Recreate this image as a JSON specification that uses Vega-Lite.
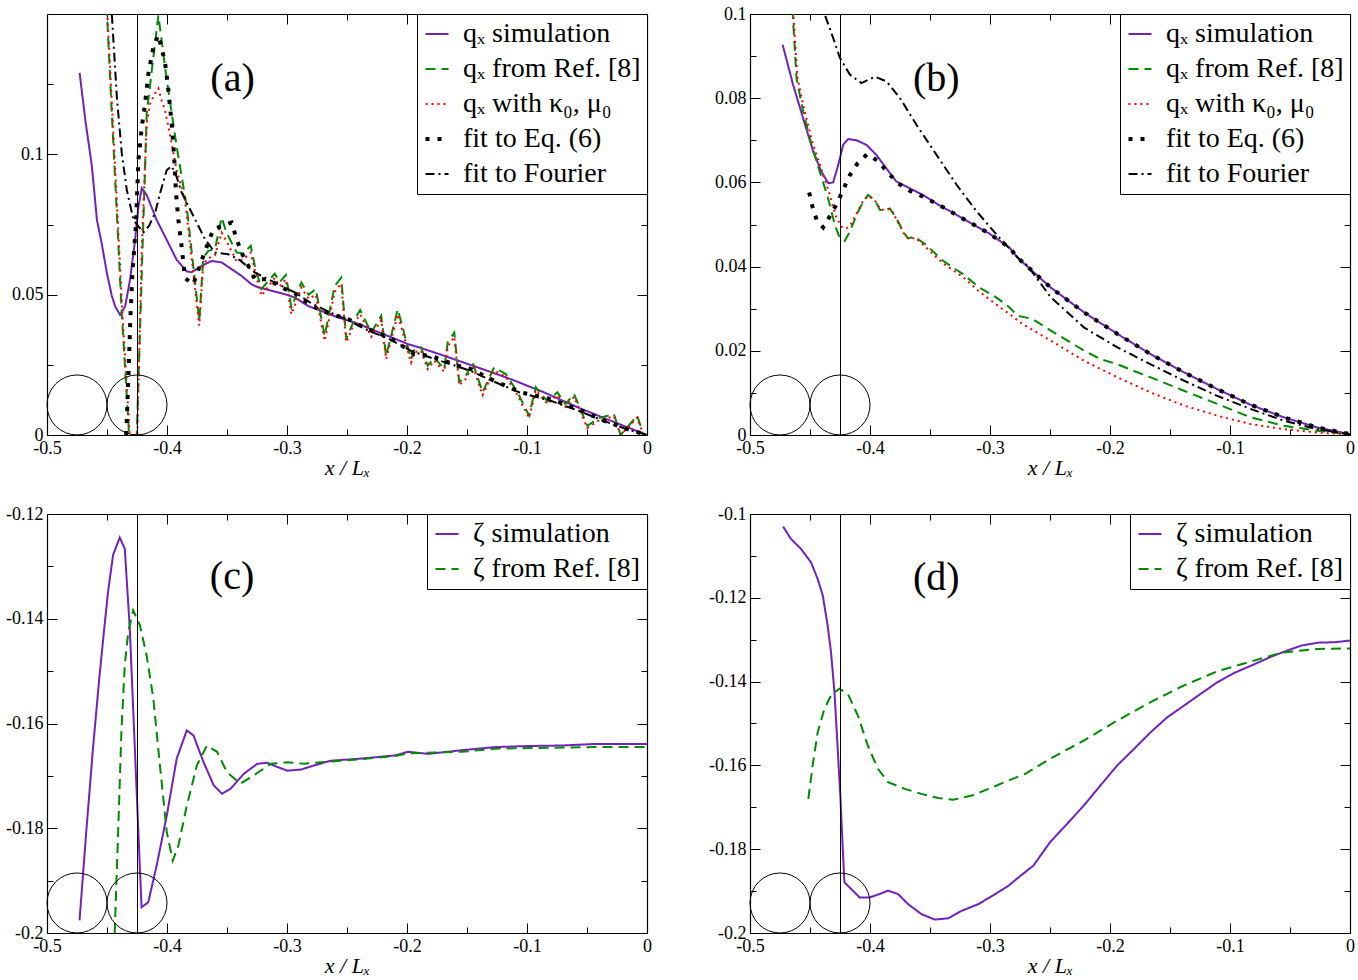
{
"$schema": "https://vega.github.io/schema/vega-lite/v6.json",
"padding": {"left": 5, "top": 5, "right": 5, "bottom": 5},
"background": "white",
"config": {
  "view": {"stroke": null},
  "font": "Liberation Serif",
  "axis": {"domainColor": "black", "domainWidth": 1.2, "tickColor": "black", "tickWidth": 1, "labelColor": "black", "labelFont": "Liberation Serif", "labelFontSize": 18, "titleFont": "Liberation Serif", "grid": false, "labelFlush": false, "labelOverlap": false, "labelBound": false}
},
"datasets": {
  "qa": [
    {"s":"p","x":-0.4728,"y":0.129},{"s":"p","x":-0.468,"y":0.112},{"s":"p","x":-0.4626,"y":0.0958},{"s":"p","x":-0.4584,"y":0.0766},{"s":"p","x":-0.4543,"y":0.068},{"s":"p","x":-0.4501,"y":0.0577},{"s":"p","x":-0.446,"y":0.0496},{"s":"p","x":-0.4432,"y":0.0458},{"s":"p","x":-0.4391,"y":0.0428},{"s":"p","x":-0.4349,"y":0.0458},{"s":"p","x":-0.4308,"y":0.0553},{"s":"p","x":-0.4266,"y":0.0695},{"s":"p","x":-0.4238,"y":0.0814},{"s":"p","x":-0.421,"y":0.0879},{"s":"p","x":-0.4169,"y":0.0855},{"s":"p","x":-0.4086,"y":0.0766},{"s":"p","x":-0.4002,"y":0.0695},{"s":"p","x":-0.3919,"y":0.0624},{"s":"p","x":-0.3836,"y":0.0583},{"s":"p","x":-0.3795,"y":0.058},{"s":"p","x":-0.3712,"y":0.0603},{"s":"p","x":-0.3628,"y":0.062},{"s":"p","x":-0.3545,"y":0.0615},{"s":"p","x":-0.3462,"y":0.0591},{"s":"p","x":-0.3379,"y":0.0567},{"s":"p","x":-0.3296,"y":0.0537},{"s":"p","x":-0.324,"y":0.0526},{"s":"p","x":-0.313,"y":0.0514},{"s":"p","x":-0.3019,"y":0.0502},{"s":"p","x":-0.2936,"y":0.049},{"s":"p","x":-0.2825,"y":0.046},{"s":"p","x":-0.2714,"y":0.0442},{"s":"p","x":-0.2575,"y":0.0419},{"s":"p","x":-0.2437,"y":0.0401},{"s":"p","x":-0.2298,"y":0.0377},{"s":"p","x":-0.216,"y":0.0353},{"s":"p","x":-0.1993,"y":0.0324},{"s":"p","x":-0.1883,"y":0.031},{"s":"p","x":-0.1689,"y":0.0282},{"s":"p","x":-0.1412,"y":0.0241},{"s":"p","x":-0.1135,"y":0.0199},{"s":"p","x":-0.0858,"y":0.0152},{"s":"p","x":-0.058,"y":0.0099},{"s":"p","x":-0.0303,"y":0.0051},{"s":"p","x":0,"y":0},
    {"s":"g","x":-0.4525,"y":0.17},{"s":"g","x":-0.45,"y":0.15},{"s":"g","x":-0.446,"y":0.1146},{"s":"g","x":-0.4418,"y":0.079},{"s":"g","x":-0.4377,"y":0.0434},{"s":"g","x":-0.4335,"y":0.0139},{"s":"g","x":-0.4316,"y":0},{"s":"g","x":-0.4252,"y":0},{"s":"g","x":-0.4169,"y":0.1146},{"s":"g","x":-0.4072,"y":0.1495},{"s":"g","x":-0.4002,"y":0.1265},{"s":"g","x":-0.392,"y":0.1029},{"s":"g","x":-0.3836,"y":0.0815},{"s":"g","x":-0.3731,"y":0.0407},{"s":"g","x":-0.3698,"y":0.0632},{"s":"g","x":-0.3656,"y":0.0656},{"s":"g","x":-0.36,"y":0.0662},{"s":"g","x":-0.3545,"y":0.0775},{"s":"g","x":-0.3504,"y":0.0721},{"s":"g","x":-0.342,"y":0.065},{"s":"g","x":-0.3365,"y":0.0648},{"s":"g","x":-0.3302,"y":0.0674},{"s":"g","x":-0.3268,"y":0.0603},{"s":"g","x":-0.3213,"y":0.052},{"s":"g","x":-0.3102,"y":0.0575},{"s":"g","x":-0.306,"y":0.0545},{"s":"g","x":-0.301,"y":0.057},{"s":"g","x":-0.2963,"y":0.0454},{"s":"g","x":-0.288,"y":0.0543},{"s":"g","x":-0.282,"y":0.05},{"s":"g","x":-0.276,"y":0.052},{"s":"g","x":-0.2686,"y":0.0353},{"s":"g","x":-0.2603,"y":0.0531},{"s":"g","x":-0.2548,"y":0.0561},{"s":"g","x":-0.2506,"y":0.0342},{"s":"g","x":-0.2437,"y":0.0413},{"s":"g","x":-0.239,"y":0.0445},{"s":"g","x":-0.2298,"y":0.0365},{"s":"g","x":-0.2215,"y":0.0425},{"s":"g","x":-0.2174,"y":0.0282},{"s":"g","x":-0.2077,"y":0.0448},{"s":"g","x":-0.1966,"y":0.027},{"s":"g","x":-0.1938,"y":0.0306},{"s":"g","x":-0.1883,"y":0.0312},{"s":"g","x":-0.1827,"y":0.0247},{"s":"g","x":-0.1772,"y":0.0276},{"s":"g","x":-0.169,"y":0.0235},{"s":"g","x":-0.1661,"y":0.033},{"s":"g","x":-0.1606,"y":0.0365},{"s":"g","x":-0.1564,"y":0.0188},{"s":"g","x":-0.151,"y":0.021},{"s":"g","x":-0.1453,"y":0.0259},{"s":"g","x":-0.137,"y":0.0152},{"s":"g","x":-0.1274,"y":0.0241},{"s":"g","x":-0.1176,"y":0.0217},{"s":"g","x":-0.1079,"y":0.0152},{"s":"g","x":-0.0983,"y":0.0069},{"s":"g","x":-0.0927,"y":0.017},{"s":"g","x":-0.083,"y":0.012},{"s":"g","x":-0.0747,"y":0.0152},{"s":"g","x":-0.068,"y":0.011},{"s":"g","x":-0.0608,"y":0.0146},{"s":"g","x":-0.0497,"y":0.0033},{"s":"g","x":-0.04,"y":0.006},{"s":"g","x":-0.0276,"y":0.0075},{"s":"g","x":-0.022,"y":0},{"s":"g","x":-0.0081,"y":0.0069},{"s":"g","x":-0.003,"y":0},{"s":"g","x":0,"y":0},
    {"s":"r","x":-0.452,"y":0.17},{"s":"r","x":-0.4497,"y":0.15},{"s":"r","x":-0.4455,"y":0.1146},{"s":"r","x":-0.4413,"y":0.079},{"s":"r","x":-0.4372,"y":0.0434},{"s":"r","x":-0.433,"y":0.0139},{"s":"r","x":-0.431,"y":0},{"s":"r","x":-0.4248,"y":0},{"s":"r","x":-0.421,"y":0.067},{"s":"r","x":-0.4169,"y":0.111},{"s":"r","x":-0.4141,"y":0.118},{"s":"r","x":-0.41,"y":0.1217},{"s":"r","x":-0.4072,"y":0.1235},{"s":"r","x":-0.4044,"y":0.119},{"s":"r","x":-0.4017,"y":0.1158},{"s":"r","x":-0.3961,"y":0.1039},{"s":"r","x":-0.392,"y":0.0944},{"s":"r","x":-0.385,"y":0.0837},{"s":"r","x":-0.3731,"y":0.039},{"s":"r","x":-0.3698,"y":0.061},{"s":"r","x":-0.3656,"y":0.063},{"s":"r","x":-0.36,"y":0.064},{"s":"r","x":-0.3545,"y":0.0721},{"s":"r","x":-0.3504,"y":0.069},{"s":"r","x":-0.342,"y":0.062},{"s":"r","x":-0.3365,"y":0.0625},{"s":"r","x":-0.3302,"y":0.065},{"s":"r","x":-0.3268,"y":0.0585},{"s":"r","x":-0.3213,"y":0.0496},{"s":"r","x":-0.3102,"y":0.056},{"s":"r","x":-0.306,"y":0.053},{"s":"r","x":-0.301,"y":0.0555},{"s":"r","x":-0.2963,"y":0.043},{"s":"r","x":-0.288,"y":0.0525},{"s":"r","x":-0.282,"y":0.0485},{"s":"r","x":-0.276,"y":0.05},{"s":"r","x":-0.2686,"y":0.0335},{"s":"r","x":-0.2603,"y":0.051},{"s":"r","x":-0.2548,"y":0.054},{"s":"r","x":-0.2506,"y":0.033},{"s":"r","x":-0.2437,"y":0.04},{"s":"r","x":-0.239,"y":0.043},{"s":"r","x":-0.2298,"y":0.035},{"s":"r","x":-0.2215,"y":0.041},{"s":"r","x":-0.2174,"y":0.027},{"s":"r","x":-0.2077,"y":0.043},{"s":"r","x":-0.1966,"y":0.0258},{"s":"r","x":-0.1938,"y":0.0295},{"s":"r","x":-0.1883,"y":0.03},{"s":"r","x":-0.1827,"y":0.0235},{"s":"r","x":-0.1772,"y":0.0265},{"s":"r","x":-0.169,"y":0.0225},{"s":"r","x":-0.1661,"y":0.0315},{"s":"r","x":-0.1606,"y":0.035},{"s":"r","x":-0.1564,"y":0.0178},{"s":"r","x":-0.151,"y":0.02},{"s":"r","x":-0.1453,"y":0.0248},{"s":"r","x":-0.137,"y":0.0142},{"s":"r","x":-0.1274,"y":0.023},{"s":"r","x":-0.1176,"y":0.0207},{"s":"r","x":-0.1079,"y":0.0142},{"s":"r","x":-0.0983,"y":0.006},{"s":"r","x":-0.0927,"y":0.016},{"s":"r","x":-0.083,"y":0.011},{"s":"r","x":-0.0747,"y":0.0142},{"s":"r","x":-0.068,"y":0.01},{"s":"r","x":-0.0608,"y":0.0136},{"s":"r","x":-0.0497,"y":0.0025},{"s":"r","x":-0.04,"y":0.0052},{"s":"r","x":-0.0276,"y":0.0067},{"s":"r","x":-0.022,"y":0},{"s":"r","x":-0.0081,"y":0.0062},{"s":"r","x":-0.003,"y":0},{"s":"r","x":0,"y":0},
    {"s":"d","x":-0.434,"y":0},{"s":"d","x":-0.4322,"y":0.02},{"s":"d","x":-0.4305,"y":0.042},{"s":"d","x":-0.4288,"y":0.0577},{"s":"d","x":-0.426,"y":0.0743},{"s":"d","x":-0.4238,"y":0.098},{"s":"d","x":-0.421,"y":0.1098},{"s":"d","x":-0.4183,"y":0.118},{"s":"d","x":-0.4155,"y":0.1288},{"s":"d","x":-0.4113,"y":0.1383},{"s":"d","x":-0.4072,"y":0.1425},{"s":"d","x":-0.4017,"y":0.133},{"s":"d","x":-0.3989,"y":0.1229},{"s":"d","x":-0.3961,"y":0.111},{"s":"d","x":-0.3942,"y":0.1004},{"s":"d","x":-0.3925,"y":0.0861},{"s":"d","x":-0.3905,"y":0.0766},{"s":"d","x":-0.3878,"y":0.0671},{"s":"d","x":-0.385,"y":0.0559},{"s":"d","x":-0.3781,"y":0.0537},{"s":"d","x":-0.3698,"y":0.0638},{"s":"d","x":-0.3614,"y":0.0733},{"s":"d","x":-0.3462,"y":0.0757},{"s":"d","x":-0.342,"y":0.0698},{"s":"d","x":-0.3379,"y":0.065},{"s":"d","x":-0.3323,"y":0.0603},{"s":"d","x":-0.3268,"y":0.0555},{"s":"d","x":-0.3157,"y":0.0555},{"s":"d","x":-0.3047,"y":0.0526},{"s":"d","x":-0.2922,"y":0.0502},{"s":"d","x":-0.2853,"y":0.0478},{"s":"d","x":-0.2742,"y":0.0448},{"s":"d","x":-0.2631,"y":0.0431},{"s":"d","x":-0.2492,"y":0.0413},{"s":"d","x":-0.2326,"y":0.0377},{"s":"d","x":-0.2215,"y":0.0359},{"s":"d","x":-0.2105,"y":0.0336},{"s":"d","x":-0.1938,"y":0.0288},{"s":"d","x":-0.18,"y":0.0282},{"s":"d","x":-0.1689,"y":0.0264},{"s":"d","x":-0.1578,"y":0.0247},{"s":"d","x":-0.1467,"y":0.0235},{"s":"d","x":-0.1274,"y":0.0193},{"s":"d","x":-0.1052,"y":0.0152},{"s":"d","x":-0.0802,"y":0.0128},{"s":"d","x":-0.058,"y":0.0093},{"s":"d","x":-0.0359,"y":0.0051},{"s":"d","x":-0.0165,"y":0.0021},{"s":"d","x":0,"y":0},
    {"s":"f","x":-0.4489,"y":0.17},{"s":"f","x":-0.446,"y":0.15},{"s":"f","x":-0.4418,"y":0.1205},{"s":"f","x":-0.4377,"y":0.1004},{"s":"f","x":-0.4335,"y":0.0873},{"s":"f","x":-0.4279,"y":0.0766},{"s":"f","x":-0.4238,"y":0.0743},{"s":"f","x":-0.4196,"y":0.0722},{"s":"f","x":-0.415,"y":0.0745},{"s":"f","x":-0.41,"y":0.079},{"s":"f","x":-0.4058,"y":0.0861},{"s":"f","x":-0.4002,"y":0.0944},{"s":"f","x":-0.3961,"y":0.0958},{"s":"f","x":-0.392,"y":0.092},{"s":"f","x":-0.3878,"y":0.0864},{"s":"f","x":-0.3795,"y":0.0793},{"s":"f","x":-0.3684,"y":0.0698},{"s":"f","x":-0.36,"y":0.065},{"s":"f","x":-0.349,"y":0.0644},{"s":"f","x":-0.34,"y":0.0625},{"s":"f","x":-0.3268,"y":0.0579},{"s":"f","x":-0.3102,"y":0.0543},{"s":"f","x":-0.2936,"y":0.0508},{"s":"f","x":-0.28,"y":0.047},{"s":"f","x":-0.2631,"y":0.0435},{"s":"f","x":-0.2492,"y":0.041},{"s":"f","x":-0.2326,"y":0.0372},{"s":"f","x":-0.216,"y":0.0345},{"s":"f","x":-0.1966,"y":0.03},{"s":"f","x":-0.18,"y":0.0275},{"s":"f","x":-0.162,"y":0.025},{"s":"f","x":-0.1467,"y":0.0228},{"s":"f","x":-0.1274,"y":0.019},{"s":"f","x":-0.1052,"y":0.015},{"s":"f","x":-0.0802,"y":0.0122},{"s":"f","x":-0.058,"y":0.0088},{"s":"f","x":-0.0359,"y":0.005},{"s":"f","x":-0.0165,"y":0.002},{"s":"f","x":0,"y":0}
  ],
  "qb": [
    {"s":"p","x":-0.4728,"y":0.0927},{"s":"p","x":-0.464,"y":0.0831},{"s":"p","x":-0.4557,"y":0.0752},{"s":"p","x":-0.4473,"y":0.0673},{"s":"p","x":-0.4404,"y":0.0625},{"s":"p","x":-0.4348,"y":0.0598},{"s":"p","x":-0.4307,"y":0.06},{"s":"p","x":-0.4265,"y":0.0641},{"s":"p","x":-0.4224,"y":0.0689},{"s":"p","x":-0.4182,"y":0.0703},{"s":"p","x":-0.4112,"y":0.07},{"s":"p","x":-0.4029,"y":0.0689},{"s":"p","x":-0.3946,"y":0.0665},{"s":"p","x":-0.3863,"y":0.0633},{"s":"p","x":-0.378,"y":0.0602},{"s":"p","x":-0.3669,"y":0.0586},{"s":"p","x":-0.3558,"y":0.057},{"s":"p","x":-0.3447,"y":0.055},{"s":"p","x":-0.3336,"y":0.0532},{"s":"p","x":-0.3003,"y":0.0478},{"s":"p","x":-0.2837,"y":0.0445},{"s":"p","x":-0.277,"y":0.0421},{"s":"p","x":-0.2493,"y":0.035},{"s":"p","x":-0.2215,"y":0.0291},{"s":"p","x":-0.1938,"y":0.024},{"s":"p","x":-0.1661,"y":0.0192},{"s":"p","x":-0.1384,"y":0.0149},{"s":"p","x":-0.1107,"y":0.0109},{"s":"p","x":-0.083,"y":0.0072},{"s":"p","x":-0.0552,"y":0.0042},{"s":"p","x":-0.0275,"y":0.0018},{"s":"p","x":0,"y":0.0002},
    {"s":"g","x":-0.465,"y":0.105},{"s":"g","x":-0.4645,"y":0.1005},{"s":"g","x":-0.4612,"y":0.0847},{"s":"g","x":-0.4557,"y":0.0768},{"s":"g","x":-0.4487,"y":0.0689},{"s":"g","x":-0.4418,"y":0.0625},{"s":"g","x":-0.4349,"y":0.0562},{"s":"g","x":-0.4293,"y":0.0499},{"s":"g","x":-0.4251,"y":0.0467},{"s":"g","x":-0.421,"y":0.0461},{"s":"g","x":-0.4168,"y":0.0483},{"s":"g","x":-0.4112,"y":0.0523},{"s":"g","x":-0.4057,"y":0.0554},{"s":"g","x":-0.4016,"y":0.057},{"s":"g","x":-0.396,"y":0.0558},{"s":"g","x":-0.3918,"y":0.0535},{"s":"g","x":-0.3875,"y":0.0533},{"s":"g","x":-0.3835,"y":0.0538},{"s":"g","x":-0.378,"y":0.0515},{"s":"g","x":-0.3724,"y":0.0483},{"s":"g","x":-0.3683,"y":0.0467},{"s":"g","x":-0.3627,"y":0.0471},{"s":"g","x":-0.353,"y":0.0451},{"s":"g","x":-0.347,"y":0.0435},{"s":"g","x":-0.3392,"y":0.0414},{"s":"g","x":-0.3225,"y":0.0382},{"s":"g","x":-0.3087,"y":0.035},{"s":"g","x":-0.2948,"y":0.0327},{"s":"g","x":-0.2837,"y":0.0303},{"s":"g","x":-0.277,"y":0.0283},{"s":"g","x":-0.265,"y":0.0276},{"s":"g","x":-0.2493,"y":0.0248},{"s":"g","x":-0.2354,"y":0.0224},{"s":"g","x":-0.2215,"y":0.02},{"s":"g","x":-0.2077,"y":0.018},{"s":"g","x":-0.1938,"y":0.0168},{"s":"g","x":-0.18,"y":0.0152},{"s":"g","x":-0.1661,"y":0.0137},{"s":"g","x":-0.1384,"y":0.0105},{"s":"g","x":-0.1107,"y":0.0074},{"s":"g","x":-0.083,"y":0.0042},{"s":"g","x":-0.0552,"y":0.0022},{"s":"g","x":-0.0275,"y":0.001},{"s":"g","x":0,"y":0.0002},
    {"s":"r","x":-0.4645,"y":0.105},{"s":"r","x":-0.464,"y":0.1005},{"s":"r","x":-0.4605,"y":0.085},{"s":"r","x":-0.455,"y":0.0775},{"s":"r","x":-0.448,"y":0.0695},{"s":"r","x":-0.441,"y":0.0635},{"s":"r","x":-0.434,"y":0.0575},{"s":"r","x":-0.4285,"y":0.052},{"s":"r","x":-0.424,"y":0.0495},{"s":"r","x":-0.42,"y":0.049},{"s":"r","x":-0.416,"y":0.05},{"s":"r","x":-0.4105,"y":0.053},{"s":"r","x":-0.405,"y":0.056},{"s":"r","x":-0.401,"y":0.0568},{"s":"r","x":-0.3955,"y":0.0555},{"s":"r","x":-0.391,"y":0.0535},{"s":"r","x":-0.387,"y":0.0535},{"s":"r","x":-0.383,"y":0.0538},{"s":"r","x":-0.3775,"y":0.051},{"s":"r","x":-0.372,"y":0.048},{"s":"r","x":-0.368,"y":0.0466},{"s":"r","x":-0.362,"y":0.0468},{"s":"r","x":-0.353,"y":0.0445},{"s":"r","x":-0.347,"y":0.0428},{"s":"r","x":-0.3392,"y":0.0408},{"s":"r","x":-0.3225,"y":0.0375},{"s":"r","x":-0.3087,"y":0.034},{"s":"r","x":-0.2948,"y":0.031},{"s":"r","x":-0.2837,"y":0.0287},{"s":"r","x":-0.2726,"y":0.0263},{"s":"r","x":-0.2493,"y":0.0224},{"s":"r","x":-0.2215,"y":0.0176},{"s":"r","x":-0.1938,"y":0.0137},{"s":"r","x":-0.1661,"y":0.0101},{"s":"r","x":-0.1384,"y":0.007},{"s":"r","x":-0.1107,"y":0.0046},{"s":"r","x":-0.083,"y":0.0026},{"s":"r","x":-0.0552,"y":0.0014},{"s":"r","x":-0.0275,"y":0.0006},{"s":"r","x":0,"y":0.0001},
    {"s":"d","x":-0.4507,"y":0.0576},{"s":"d","x":-0.4482,"y":0.0545},{"s":"d","x":-0.4445,"y":0.0511},{"s":"d","x":-0.439,"y":0.0493},{"s":"d","x":-0.4326,"y":0.0524},{"s":"d","x":-0.427,"y":0.0553},{"s":"d","x":-0.4218,"y":0.0586},{"s":"d","x":-0.4168,"y":0.0617},{"s":"d","x":-0.4107,"y":0.0644},{"s":"d","x":-0.4024,"y":0.0667},{"s":"d","x":-0.3933,"y":0.0651},{"s":"d","x":-0.3854,"y":0.0624},{"s":"d","x":-0.3766,"y":0.0598},{"s":"d","x":-0.3669,"y":0.058},{"s":"d","x":-0.3558,"y":0.0566},{"s":"d","x":-0.3447,"y":0.055},{"s":"d","x":-0.3336,"y":0.0532},{"s":"d","x":-0.3003,"y":0.0478},{"s":"d","x":-0.2837,"y":0.0445},{"s":"d","x":-0.277,"y":0.0421},{"s":"d","x":-0.2493,"y":0.035},{"s":"d","x":-0.2215,"y":0.0291},{"s":"d","x":-0.1938,"y":0.024},{"s":"d","x":-0.1661,"y":0.0192},{"s":"d","x":-0.1384,"y":0.0149},{"s":"d","x":-0.1107,"y":0.0109},{"s":"d","x":-0.083,"y":0.0072},{"s":"d","x":-0.0552,"y":0.0042},{"s":"d","x":-0.0275,"y":0.0018},{"s":"d","x":0,"y":0.0002},
    {"s":"f","x":-0.44,"y":0.104},{"s":"f","x":-0.4376,"y":0.0998},{"s":"f","x":-0.4307,"y":0.0943},{"s":"f","x":-0.4251,"y":0.0896},{"s":"f","x":-0.4168,"y":0.0856},{"s":"f","x":-0.4071,"y":0.0836},{"s":"f","x":-0.396,"y":0.0851},{"s":"f","x":-0.3863,"y":0.084},{"s":"f","x":-0.3752,"y":0.0801},{"s":"f","x":-0.3613,"y":0.0737},{"s":"f","x":-0.3447,"y":0.0666},{"s":"f","x":-0.328,"y":0.0595},{"s":"f","x":-0.3114,"y":0.0532},{"s":"f","x":-0.2948,"y":0.0477},{"s":"f","x":-0.2754,"y":0.0417},{"s":"f","x":-0.2687,"y":0.0402},{"s":"f","x":-0.2493,"y":0.0327},{"s":"f","x":-0.2215,"y":0.0255},{"s":"f","x":-0.1938,"y":0.0208},{"s":"f","x":-0.1661,"y":0.0168},{"s":"f","x":-0.1384,"y":0.0129},{"s":"f","x":-0.1107,"y":0.0093},{"s":"f","x":-0.083,"y":0.0062},{"s":"f","x":-0.0552,"y":0.0034},{"s":"f","x":-0.0275,"y":0.0014},{"s":"f","x":0,"y":0.0001}
  ],
  "zc": [
    {"s":"p","x":-0.4729,"y":-0.1976},{"s":"p","x":-0.4673,"y":-0.1807},{"s":"p","x":-0.4617,"y":-0.1648},{"s":"p","x":-0.4562,"y":-0.1508},{"s":"p","x":-0.452,"y":-0.1412},{"s":"p","x":-0.4491,"y":-0.1348},{"s":"p","x":-0.4449,"y":-0.1278},{"s":"p","x":-0.4394,"y":-0.1245},{"s":"p","x":-0.4352,"y":-0.1266},{"s":"p","x":-0.431,"y":-0.1419},{"s":"p","x":-0.4212,"y":-0.1951},{"s":"p","x":-0.4156,"y":-0.1941},{"s":"p","x":-0.4086,"y":-0.1871},{"s":"p","x":-0.4002,"y":-0.1776},{"s":"p","x":-0.3919,"y":-0.1667},{"s":"p","x":-0.3835,"y":-0.1613},{"s":"p","x":-0.3779,"y":-0.1623},{"s":"p","x":-0.3695,"y":-0.1674},{"s":"p","x":-0.3611,"y":-0.1718},{"s":"p","x":-0.3542,"y":-0.1734},{"s":"p","x":-0.3472,"y":-0.1725},{"s":"p","x":-0.336,"y":-0.1696},{"s":"p","x":-0.3248,"y":-0.1677},{"s":"p","x":-0.3164,"y":-0.1675},{"s":"p","x":-0.3081,"y":-0.1683},{"s":"p","x":-0.2997,"y":-0.169},{"s":"p","x":-0.2885,"y":-0.1688},{"s":"p","x":-0.2773,"y":-0.168},{"s":"p","x":-0.2633,"y":-0.1671},{"s":"p","x":-0.2382,"y":-0.1667},{"s":"p","x":-0.2102,"y":-0.1661},{"s":"p","x":-0.1991,"y":-0.1654},{"s":"p","x":-0.1823,"y":-0.1658},{"s":"p","x":-0.1544,"y":-0.1651},{"s":"p","x":-0.1265,"y":-0.1645},{"s":"p","x":-0.0985,"y":-0.1643},{"s":"p","x":-0.0706,"y":-0.1642},{"s":"p","x":-0.0427,"y":-0.1639},{"s":"p","x":-0.0147,"y":-0.1639},{"s":"p","x":0,"y":-0.1639},
    {"s":"g","x":-0.4436,"y":-0.2},{"s":"g","x":-0.4407,"y":-0.1807},{"s":"g","x":-0.438,"y":-0.1616},{"s":"g","x":-0.4352,"y":-0.1489},{"s":"g","x":-0.4323,"y":-0.1425},{"s":"g","x":-0.4282,"y":-0.1384},{"s":"g","x":-0.4226,"y":-0.1412},{"s":"g","x":-0.417,"y":-0.147},{"s":"g","x":-0.4114,"y":-0.1552},{"s":"g","x":-0.4059,"y":-0.168},{"s":"g","x":-0.4002,"y":-0.1807},{"s":"g","x":-0.3952,"y":-0.1862},{"s":"g","x":-0.3905,"y":-0.1833},{"s":"g","x":-0.3835,"y":-0.1757},{"s":"g","x":-0.3751,"y":-0.168},{"s":"g","x":-0.3667,"y":-0.1642},{"s":"g","x":-0.3583,"y":-0.1654},{"s":"g","x":-0.35,"y":-0.1693},{"s":"g","x":-0.3388,"y":-0.1715},{"s":"g","x":-0.3276,"y":-0.1699},{"s":"g","x":-0.3137,"y":-0.1677},{"s":"g","x":-0.2997,"y":-0.1674},{"s":"g","x":-0.2857,"y":-0.1677},{"s":"g","x":-0.2717,"y":-0.1674},{"s":"g","x":-0.2382,"y":-0.1668},{"s":"g","x":-0.2102,"y":-0.1662},{"s":"g","x":-0.1991,"y":-0.1657},{"s":"g","x":-0.1544,"y":-0.1654},{"s":"g","x":-0.1265,"y":-0.1648},{"s":"g","x":-0.0985,"y":-0.1647},{"s":"g","x":-0.0706,"y":-0.1646},{"s":"g","x":-0.0427,"y":-0.1645},{"s":"g","x":0,"y":-0.1645}
  ],
  "zd": [
    {"s":"p","x":-0.4724,"y":-0.103},{"s":"p","x":-0.466,"y":-0.1059},{"s":"p","x":-0.4576,"y":-0.1083},{"s":"p","x":-0.4492,"y":-0.1115},{"s":"p","x":-0.4436,"y":-0.1155},{"s":"p","x":-0.4394,"y":-0.1194},{"s":"p","x":-0.4353,"y":-0.1266},{"s":"p","x":-0.4325,"y":-0.133},{"s":"p","x":-0.4296,"y":-0.1425},{"s":"p","x":-0.4269,"y":-0.1561},{"s":"p","x":-0.4246,"y":-0.168},{"s":"p","x":-0.4227,"y":-0.1799},{"s":"p","x":-0.4213,"y":-0.1879},{"s":"p","x":-0.4157,"y":-0.1895},{"s":"p","x":-0.4087,"y":-0.1915},{"s":"p","x":-0.4003,"y":-0.1915},{"s":"p","x":-0.392,"y":-0.1907},{"s":"p","x":-0.385,"y":-0.1899},{"s":"p","x":-0.3766,"y":-0.1907},{"s":"p","x":-0.3683,"y":-0.1931},{"s":"p","x":-0.3571,"y":-0.1955},{"s":"p","x":-0.3459,"y":-0.1968},{"s":"p","x":-0.3348,"y":-0.1965},{"s":"p","x":-0.3236,"y":-0.1947},{"s":"p","x":-0.3096,"y":-0.1931},{"s":"p","x":-0.2956,"y":-0.1907},{"s":"p","x":-0.2845,"y":-0.1887},{"s":"p","x":-0.2778,"y":-0.1871},{"s":"p","x":-0.2638,"y":-0.1839},{"s":"p","x":-0.2499,"y":-0.1783},{"s":"p","x":-0.2359,"y":-0.174},{"s":"p","x":-0.2219,"y":-0.1696},{"s":"p","x":-0.208,"y":-0.1648},{"s":"p","x":-0.194,"y":-0.16},{"s":"p","x":-0.1801,"y":-0.1561},{"s":"p","x":-0.1662,"y":-0.1521},{"s":"p","x":-0.1522,"y":-0.1485},{"s":"p","x":-0.1382,"y":-0.1457},{"s":"p","x":-0.1243,"y":-0.1429},{"s":"p","x":-0.1103,"y":-0.1401},{"s":"p","x":-0.0963,"y":-0.1379},{"s":"p","x":-0.0824,"y":-0.1362},{"s":"p","x":-0.0684,"y":-0.1344},{"s":"p","x":-0.0572,"y":-0.1331},{"s":"p","x":-0.0405,"y":-0.1314},{"s":"p","x":-0.0266,"y":-0.1307},{"s":"p","x":-0.0126,"y":-0.1306},{"s":"p","x":0,"y":-0.1302},
    {"s":"g","x":-0.4514,"y":-0.168},{"s":"g","x":-0.4478,"y":-0.16},{"s":"g","x":-0.4436,"y":-0.1521},{"s":"g","x":-0.438,"y":-0.1465},{"s":"g","x":-0.4325,"y":-0.1433},{"s":"g","x":-0.4255,"y":-0.1417},{"s":"g","x":-0.4185,"y":-0.1429},{"s":"g","x":-0.4101,"y":-0.1481},{"s":"g","x":-0.4018,"y":-0.1553},{"s":"g","x":-0.3934,"y":-0.1608},{"s":"g","x":-0.385,"y":-0.164},{"s":"g","x":-0.371,"y":-0.1656},{"s":"g","x":-0.3571,"y":-0.1668},{"s":"g","x":-0.3431,"y":-0.1678},{"s":"g","x":-0.3306,"y":-0.1682},{"s":"g","x":-0.3152,"y":-0.1672},{"s":"g","x":-0.3013,"y":-0.1656},{"s":"g","x":-0.2845,"y":-0.1636},{"s":"g","x":-0.2705,"y":-0.162},{"s":"g","x":-0.2499,"y":-0.1584},{"s":"g","x":-0.2219,"y":-0.1541},{"s":"g","x":-0.194,"y":-0.1493},{"s":"g","x":-0.1662,"y":-0.1449},{"s":"g","x":-0.1382,"y":-0.1409},{"s":"g","x":-0.1103,"y":-0.1375},{"s":"g","x":-0.0824,"y":-0.1352},{"s":"g","x":-0.0572,"y":-0.1331},{"s":"g","x":-0.0266,"y":-0.1322},{"s":"g","x":0,"y":-0.1321}
  ],
  "ca": [{"x":-0.475,"y":0.0107},{"x":-0.425,"y":0.0107}],
  "cb": [{"x":-0.475,"y":0.00713},{"x":-0.425,"y":0.00713}],
  "cc": [{"x":-0.475,"y":-0.19427},{"x":-0.425,"y":-0.19427}],
  "cd": [{"x":-0.475,"y":-0.19284},{"x":-0.425,"y":-0.19284}]
},
"columns": 2,
"spacing": {"row": 79, "column": 103},
"bounds": "flush",
"resolve": {"scale": {"color": "independent", "strokeDash": "independent", "strokeWidth": "independent"}},
"concat": [
 {
  "width": 600, "height": 421,
  "resolve": {"axis": {"x": "independent", "y": "independent"}},
  "layer": [
   {"data": {"name": "qa"}, "mark": {"type": "line", "clip": true},
    "encoding": {
     "x": {"field": "x", "type": "quantitative", "scale": {"domain": [-0.5, 0], "nice": false, "zero": false}, "axis": {"orient": "bottom", "values": [-0.5,-0.4,-0.3,-0.2,-0.1,0], "labelExpr": "'' + datum.value", "tickSize": -10, "labelPadding": 14, "title": "x / Lₓ", "titleFontStyle": "italic", "titleFontSize": 22, "titleFontWeight": "normal", "titleColor": "black", "titlePadding": 0}},
     "y": {"field": "y", "type": "quantitative", "scale": {"domain": [0, 0.15], "nice": false, "zero": false}, "axis": {"orient": "left", "values": [0, 0.05, 0.1], "labelExpr": "'' + datum.value", "tickSize": -10, "labelPadding": 14, "title": null}},
     "color": {"field": "s", "type": "nominal", "scale": {"domain": ["p","g","r","d","f"], "range": ["#7221bc","#008b00","#ff0000","#000000","#000000"]},
       "legend": {"orient": "top-right", "offset": 0, "title": null, "symbolType": "stroke", "symbolSize": 529, "labelFont": "Liberation Serif", "labelFontSize": 28, "labelColor": "black", "strokeColor": "black", "fillColor": "white", "padding": 6, "rowPadding": 7, "labelOffset": 12, "labelLimit": 400,
         "labelExpr": "datum.value == 'p' ? 'qₓ simulation' : datum.value == 'g' ? 'qₓ from Ref. [8]' : datum.value == 'r' ? 'qₓ with κ₀, μ₀' : datum.value == 'd' ? 'fit to Eq. (6)' : 'fit to Fourier'"}},
     "strokeDash": {"field": "s", "type": "nominal", "scale": {"domain": ["p","g","r","d","f"], "range": [[1,0],[10,6],[2,4],[4,8],[9,4,2,4]]}},
     "strokeWidth": {"field": "s", "type": "nominal", "scale": {"type": "ordinal", "domain": ["p","g","r","d","f"], "range": [2,2,2,4,2]}}
    }},
   {"data": {"name": "ca"}, "mark": {"type": "point", "shape": "circle", "filled": false, "size": 3600, "color": "black", "strokeWidth": 1, "opacity": 1},
    "encoding": {
     "x": {"field": "x", "type": "quantitative", "axis": {"orient": "bottom", "values": [-0.45,-0.35,-0.25,-0.15,-0.05], "labels": false, "domain": false, "tickSize": -6, "title": null}},
     "y": {"field": "y", "type": "quantitative", "axis": {"orient": "left", "values": [0.025,0.075,0.125], "labels": false, "domain": false, "tickSize": -6, "title": null}}
    }},
   {"data": {"values": [{}]}, "mark": {"type": "text", "font": "Liberation Serif", "fontSize": 40, "color": "black", "align": "center", "baseline": "middle"},
    "encoding": {
     "x": {"datum": -0.3454, "type": "quantitative", "axis": {"orient": "top", "values": [-0.5,-0.4,-0.3,-0.2,-0.1,0], "labels": false, "tickSize": -10, "title": null}},
     "y": {"datum": 0.1267, "type": "quantitative", "axis": {"orient": "right", "values": [0, 0.05, 0.1], "labels": false, "tickSize": -10, "title": null}},
     "text": {"value": "(a)"}
    }},
   {"data": {"values": [{}]}, "mark": {"type": "rule", "color": "black", "strokeWidth": 1, "xOffset": 0.5},
    "encoding": {
     "x": {"datum": -0.425, "type": "quantitative", "axis": {"orient": "top", "values": [-0.45,-0.35,-0.25,-0.15,-0.05], "labels": false, "domain": false, "tickSize": -6, "title": null}},
     "y": {"datum": 0, "type": "quantitative", "axis": {"orient": "right", "values": [0.025,0.075,0.125], "labels": false, "domain": false, "tickSize": -6, "title": null}},
     "y2": {"datum": 0.15}
    }}
  ]
 },
 {
  "width": 600, "height": 421,
  "resolve": {"axis": {"x": "independent", "y": "independent"}},
  "layer": [
   {"data": {"name": "qb"}, "mark": {"type": "line", "clip": true},
    "encoding": {
     "x": {"field": "x", "type": "quantitative", "scale": {"domain": [-0.5, 0], "nice": false, "zero": false}, "axis": {"orient": "bottom", "values": [-0.5,-0.4,-0.3,-0.2,-0.1,0], "labelExpr": "'' + datum.value", "tickSize": -10, "labelPadding": 14, "title": "x / Lₓ", "titleFontStyle": "italic", "titleFontSize": 22, "titleFontWeight": "normal", "titleColor": "black", "titlePadding": 0}},
     "y": {"field": "y", "type": "quantitative", "scale": {"domain": [0, 0.1], "nice": false, "zero": false}, "axis": {"orient": "left", "values": [0, 0.02, 0.04, 0.06, 0.08, 0.1], "labelExpr": "'' + datum.value", "tickSize": -10, "labelPadding": 14, "title": null}},
     "color": {"field": "s", "type": "nominal", "scale": {"domain": ["p","g","r","d","f"], "range": ["#7221bc","#008b00","#ff0000","#000000","#000000"]},
       "legend": {"orient": "top-right", "offset": 0, "title": null, "symbolType": "stroke", "symbolSize": 529, "labelFont": "Liberation Serif", "labelFontSize": 28, "labelColor": "black", "strokeColor": "black", "fillColor": "white", "padding": 6, "rowPadding": 7, "labelOffset": 12, "labelLimit": 400,
         "labelExpr": "datum.value == 'p' ? 'qₓ simulation' : datum.value == 'g' ? 'qₓ from Ref. [8]' : datum.value == 'r' ? 'qₓ with κ₀, μ₀' : datum.value == 'd' ? 'fit to Eq. (6)' : 'fit to Fourier'"}},
     "strokeDash": {"field": "s", "type": "nominal", "scale": {"domain": ["p","g","r","d","f"], "range": [[1,0],[10,6],[2,4],[4,8],[9,4,2,4]]}},
     "strokeWidth": {"field": "s", "type": "nominal", "scale": {"type": "ordinal", "domain": ["p","g","r","d","f"], "range": [2,2,2,4,2]}}
    }},
   {"data": {"name": "cb"}, "mark": {"type": "point", "shape": "circle", "filled": false, "size": 3600, "color": "black", "strokeWidth": 1, "opacity": 1},
    "encoding": {
     "x": {"field": "x", "type": "quantitative", "axis": {"orient": "bottom", "values": [-0.45,-0.35,-0.25,-0.15,-0.05], "labels": false, "domain": false, "tickSize": -6, "title": null}},
     "y": {"field": "y", "type": "quantitative", "axis": {"orient": "left", "values": [0.01,0.03,0.05,0.07,0.09], "labels": false, "domain": false, "tickSize": -6, "title": null}}
    }},
   {"data": {"values": [{}]}, "mark": {"type": "text", "font": "Liberation Serif", "fontSize": 40, "color": "black", "align": "center", "baseline": "middle"},
    "encoding": {
     "x": {"datum": -0.3447, "type": "quantitative", "axis": {"orient": "top", "values": [-0.5,-0.4,-0.3,-0.2,-0.1,0], "labels": false, "tickSize": -10, "title": null}},
     "y": {"datum": 0.0846, "type": "quantitative", "axis": {"orient": "right", "values": [0, 0.02, 0.04, 0.06, 0.08, 0.1], "labels": false, "tickSize": -10, "title": null}},
     "text": {"value": "(b)"}
    }},
   {"data": {"values": [{}]}, "mark": {"type": "rule", "color": "black", "strokeWidth": 1, "xOffset": 0.5},
    "encoding": {
     "x": {"datum": -0.425, "type": "quantitative", "axis": {"orient": "top", "values": [-0.45,-0.35,-0.25,-0.15,-0.05], "labels": false, "domain": false, "tickSize": -6, "title": null}},
     "y": {"datum": 0, "type": "quantitative", "axis": {"orient": "right", "values": [0.01,0.03,0.05,0.07,0.09], "labels": false, "domain": false, "tickSize": -6, "title": null}},
     "y2": {"datum": 0.1}
    }}
  ]
 },
 {
  "width": 600, "height": 419,
  "resolve": {"axis": {"x": "independent", "y": "independent"}},
  "layer": [
   {"data": {"name": "zc"}, "mark": {"type": "line", "clip": true},
    "encoding": {
     "x": {"field": "x", "type": "quantitative", "scale": {"domain": [-0.5, 0], "nice": false, "zero": false}, "axis": {"orient": "bottom", "values": [-0.5,-0.4,-0.3,-0.2,-0.1,0], "labelExpr": "'' + datum.value", "tickSize": -10, "labelPadding": 14, "title": "x / Lₓ", "titleFontStyle": "italic", "titleFontSize": 22, "titleFontWeight": "normal", "titleColor": "black", "titlePadding": 0}},
     "y": {"field": "y", "type": "quantitative", "scale": {"domain": [-0.2, -0.12], "nice": false, "zero": false}, "axis": {"orient": "left", "values": [-0.2, -0.18, -0.16, -0.14, -0.12], "labelExpr": "'' + datum.value", "tickSize": -10, "labelPadding": 14, "title": null}},
     "color": {"field": "s", "type": "nominal", "scale": {"domain": ["p","g"], "range": ["#7221bc","#008b00"]},
       "legend": {"orient": "top-right", "offset": 0, "title": null, "symbolType": "stroke", "symbolSize": 529, "labelFont": "Liberation Serif", "labelFontSize": 28, "labelColor": "black", "strokeColor": "black", "fillColor": "white", "padding": 6, "rowPadding": 7, "labelOffset": 12, "labelLimit": 400,
         "labelExpr": "datum.value == 'p' ? 'ζ simulation' : 'ζ from Ref. [8]'"}},
     "strokeDash": {"field": "s", "type": "nominal", "scale": {"domain": ["p","g"], "range": [[1,0],[10,6]]}},
     "strokeWidth": {"field": "s", "type": "nominal", "scale": {"type": "ordinal", "domain": ["p","g"], "range": [2,2]}}
    }},
   {"data": {"name": "cc"}, "mark": {"type": "point", "shape": "circle", "filled": false, "size": 3600, "color": "black", "strokeWidth": 1, "opacity": 1},
    "encoding": {
     "x": {"field": "x", "type": "quantitative", "axis": {"orient": "bottom", "values": [-0.45,-0.35,-0.25,-0.15,-0.05], "labels": false, "domain": false, "tickSize": -6, "title": null}},
     "y": {"field": "y", "type": "quantitative", "axis": {"orient": "left", "values": [-0.19,-0.17,-0.15,-0.13], "labels": false, "domain": false, "tickSize": -6, "title": null}}
    }},
   {"data": {"values": [{}]}, "mark": {"type": "text", "font": "Liberation Serif", "fontSize": 40, "color": "black", "align": "center", "baseline": "middle"},
    "encoding": {
     "x": {"datum": -0.3458, "type": "quantitative", "axis": {"orient": "top", "values": [-0.5,-0.4,-0.3,-0.2,-0.1,0], "labels": false, "tickSize": -10, "title": null}},
     "y": {"datum": -0.1321, "type": "quantitative", "axis": {"orient": "right", "values": [-0.2, -0.18, -0.16, -0.14, -0.12], "labels": false, "tickSize": -10, "title": null}},
     "text": {"value": "(c)"}
    }},
   {"data": {"values": [{}]}, "mark": {"type": "rule", "color": "black", "strokeWidth": 1, "xOffset": 0.5},
    "encoding": {
     "x": {"datum": -0.425, "type": "quantitative", "axis": {"orient": "top", "values": [-0.45,-0.35,-0.25,-0.15,-0.05], "labels": false, "domain": false, "tickSize": -6, "title": null}},
     "y": {"datum": -0.2, "type": "quantitative", "axis": {"orient": "right", "values": [-0.19,-0.17,-0.15,-0.13], "labels": false, "domain": false, "tickSize": -6, "title": null}},
     "y2": {"datum": -0.12}
    }}
  ]
 },
 {
  "width": 600, "height": 419,
  "resolve": {"axis": {"x": "independent", "y": "independent"}},
  "layer": [
   {"data": {"name": "zd"}, "mark": {"type": "line", "clip": true},
    "encoding": {
     "x": {"field": "x", "type": "quantitative", "scale": {"domain": [-0.5, 0], "nice": false, "zero": false}, "axis": {"orient": "bottom", "values": [-0.5,-0.4,-0.3,-0.2,-0.1,0], "labelExpr": "'' + datum.value", "tickSize": -10, "labelPadding": 14, "title": "x / Lₓ", "titleFontStyle": "italic", "titleFontSize": 22, "titleFontWeight": "normal", "titleColor": "black", "titlePadding": 0}},
     "y": {"field": "y", "type": "quantitative", "scale": {"domain": [-0.2, -0.1], "nice": false, "zero": false}, "axis": {"orient": "left", "values": [-0.2, -0.18, -0.16, -0.14, -0.12, -0.1], "labelExpr": "'' + datum.value", "tickSize": -10, "labelPadding": 14, "title": null}},
     "color": {"field": "s", "type": "nominal", "scale": {"domain": ["p","g"], "range": ["#7221bc","#008b00"]},
       "legend": {"orient": "top-right", "offset": 0, "title": null, "symbolType": "stroke", "symbolSize": 529, "labelFont": "Liberation Serif", "labelFontSize": 28, "labelColor": "black", "strokeColor": "black", "fillColor": "white", "padding": 6, "rowPadding": 7, "labelOffset": 12, "labelLimit": 400,
         "labelExpr": "datum.value == 'p' ? 'ζ simulation' : 'ζ from Ref. [8]'"}},
     "strokeDash": {"field": "s", "type": "nominal", "scale": {"domain": ["p","g"], "range": [[1,0],[10,6]]}},
     "strokeWidth": {"field": "s", "type": "nominal", "scale": {"type": "ordinal", "domain": ["p","g"], "range": [2,2]}}
    }},
   {"data": {"name": "cd"}, "mark": {"type": "point", "shape": "circle", "filled": false, "size": 3600, "color": "black", "strokeWidth": 1, "opacity": 1},
    "encoding": {
     "x": {"field": "x", "type": "quantitative", "axis": {"orient": "bottom", "values": [-0.45,-0.35,-0.25,-0.15,-0.05], "labels": false, "domain": false, "tickSize": -6, "title": null}},
     "y": {"field": "y", "type": "quantitative", "axis": {"orient": "left", "values": [-0.19,-0.17,-0.15,-0.13,-0.11], "labels": false, "domain": false, "tickSize": -6, "title": null}}
    }},
   {"data": {"values": [{}]}, "mark": {"type": "text", "font": "Liberation Serif", "fontSize": 40, "color": "black", "align": "center", "baseline": "middle"},
    "encoding": {
     "x": {"datum": -0.3448, "type": "quantitative", "axis": {"orient": "top", "values": [-0.5,-0.4,-0.3,-0.2,-0.1,0], "labels": false, "tickSize": -10, "title": null}},
     "y": {"datum": -0.1152, "type": "quantitative", "axis": {"orient": "right", "values": [-0.2, -0.18, -0.16, -0.14, -0.12, -0.1], "labels": false, "tickSize": -10, "title": null}},
     "text": {"value": "(d)"}
    }},
   {"data": {"values": [{}]}, "mark": {"type": "rule", "color": "black", "strokeWidth": 1, "xOffset": 0.5},
    "encoding": {
     "x": {"datum": -0.425, "type": "quantitative", "axis": {"orient": "top", "values": [-0.45,-0.35,-0.25,-0.15,-0.05], "labels": false, "domain": false, "tickSize": -6, "title": null}},
     "y": {"datum": -0.2, "type": "quantitative", "axis": {"orient": "right", "values": [-0.19,-0.17,-0.15,-0.13,-0.11], "labels": false, "domain": false, "tickSize": -6, "title": null}},
     "y2": {"datum": -0.1}
    }}
  ]
 }
]
}
